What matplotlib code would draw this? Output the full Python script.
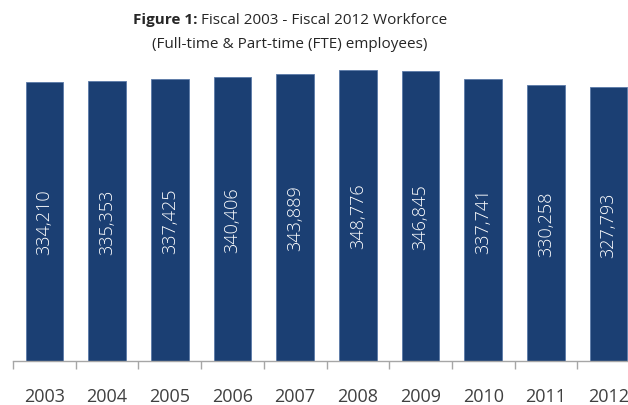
import numpy as np
import matplotlib
matplotlib.use('Agg')
import matplotlib.pyplot as plt

# workforce counts, full-time and part-time (FTE)
years = ['2003', '2004', '2005', '2006', '2007', '2008', '2009', '2010', '2011', '2012']
employees = [334210, 335353, 337425, 340406, 343889, 348776, 346845, 337741, 330258, 327793]

plt.rcParams['font.family'] = ['Open Sans', 'DejaVu Sans']

W, H = 628, 406
fig = plt.figure(figsize=(W / 100, H / 100), dpi=100)
ax = fig.add_axes([13 / W, 44 / H, 627 / W, 334 / H])

x = np.arange(len(years))
bars = ax.bar(x, employees, width=0.6, color='#1b3f73', edgecolor='#5a7aa8', linewidth=0.6)

for xi, v in zip(x, employees):
    ax.text(xi, v / 2, f'{v:,}', rotation=90, ha='center', va='center',
            color='white', fontsize=13, fontweight='light')

ax.set_xlim(-0.5, len(years) - 0.5)
ax.set_ylim(0, 400000)
ax.set_yticks([])
for side in ['top', 'right', 'left']:
    ax.spines[side].set_visible(False)
ax.spines['bottom'].set_color('#a6a6a6')
ax.spines['bottom'].set_linewidth(1.0)

ax.set_xticks(x)
ax.set_xticklabels(years)
ax.tick_params(axis='x', which='major', length=0, pad=19, labelsize=13, labelcolor='#404040')
ax.set_xticks(np.arange(-0.5, len(years), 1.0), minor=True)
ax.tick_params(axis='x', which='minor', length=6, width=1.0, color='#a6a6a6')

# two-part title: bold prefix followed by regular text, centred as one line
cx = 290
y1 = 1 - 20 / H
t1 = fig.text(0, y1, 'Figure 1:', fontsize=11, fontweight='bold', color='#262626', ha='left', va='center')
t2 = fig.text(0, y1, 'Fiscal 2003 - Fiscal 2012 Workforce', fontsize=11,
              color='#262626', ha='left', va='center')
fig.canvas.draw()
w1 = t1.get_window_extent().width
w2 = t2.get_window_extent().width
gap = 4
left = cx - (w1 + gap + w2) / 2
t1.set_x(left / W)
t2.set_x((left + w1 + gap) / W)
fig.text(cx / W, 1 - 45 / H, '(Full-time & Part-time (FTE) employees)', fontsize=11,
         color='#262626', ha='center', va='center')

fig.savefig('out.png', dpi=100)
